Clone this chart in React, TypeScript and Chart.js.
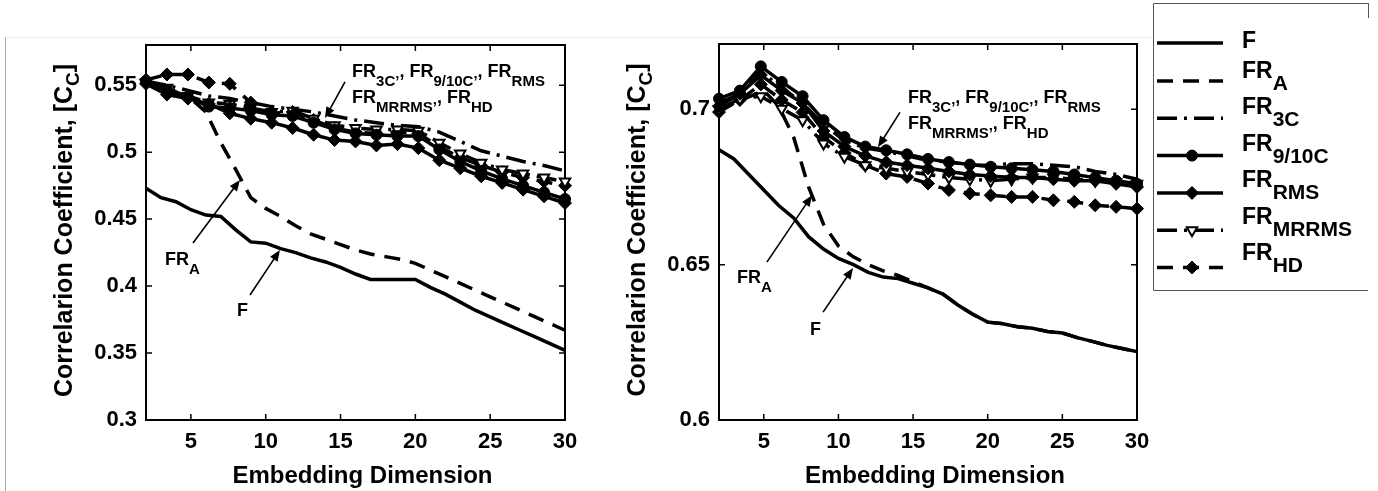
import React, { useEffect, useRef } from "react";
import { Chart, registerables } from "chart.js";

Chart.register(...registerables);

// ---------------- data ----------------
const xInt = [2, 3, 4, 5, 6, 7, 8, 9, 10, 11, 12, 13, 14, 15, 16, 17, 18, 19, 20, 21, 22, 23, 24, 25, 26, 27, 28, 29, 30];
const xMark = [2, 3.4, 4.8, 6.2, 7.6, 9, 10.4, 11.8, 13.2, 14.6, 16, 17.4, 18.8, 20.2, 21.6, 23, 24.4, 25.8, 27.2, 28.6, 30];

// left panel
const leftF = [0.473, 0.466, 0.463, 0.457, 0.453, 0.452, 0.442, 0.433, 0.432, 0.428, 0.425, 0.421, 0.418, 0.414, 0.409, 0.405, 0.405, 0.405, 0.405, 0.399, 0.394, 0.388, 0.382, 0.377, 0.372, 0.367, 0.362, 0.357, 0.352];
const leftFRA = [0.552, 0.549, 0.545, 0.540, 0.530, 0.507, 0.487, 0.466, 0.458, 0.452, 0.445, 0.439, 0.435, 0.431, 0.427, 0.424, 0.422, 0.420, 0.417, 0.412, 0.407, 0.402, 0.397, 0.392, 0.387, 0.382, 0.377, 0.372, 0.367];
const left3C = [0.553, 0.550, 0.546, 0.542, 0.540, 0.537, 0.534, 0.532, 0.530, 0.527, 0.524, 0.522, 0.520, 0.519, 0.515, 0.508, 0.501, 0.497, 0.493, 0.490, 0.486];
const left910C = [0.553, 0.546, 0.541, 0.534, 0.533, 0.531, 0.528, 0.527, 0.522, 0.517, 0.514, 0.513, 0.512, 0.512, 0.502, 0.493, 0.486, 0.480, 0.475, 0.470, 0.465];
const leftRMS = [0.551, 0.543, 0.540, 0.536, 0.529, 0.525, 0.522, 0.518, 0.513, 0.509, 0.508, 0.505, 0.506, 0.503, 0.494, 0.488, 0.482, 0.477, 0.472, 0.467, 0.462];
const leftMRRMS = [0.552, 0.548, 0.542, 0.537, 0.536, 0.533, 0.530, 0.531, 0.525, 0.520, 0.518, 0.517, 0.517, 0.516, 0.507, 0.499, 0.492, 0.487, 0.484, 0.481, 0.478];
const leftHD = [0.554, 0.558, 0.558, 0.552, 0.551, 0.537, 0.529, 0.530, 0.524, 0.518, 0.515, 0.514, 0.515, 0.514, 0.504, 0.496, 0.490, 0.485, 0.481, 0.478, 0.475];

// right panel
const rightF = [0.687, 0.684, 0.679, 0.674, 0.669, 0.665, 0.659, 0.655, 0.652, 0.650, 0.6475, 0.646, 0.6455, 0.644, 0.6425, 0.6405, 0.637, 0.634, 0.6315, 0.631, 0.630, 0.6295, 0.6285, 0.628, 0.6265, 0.6253, 0.624, 0.623, 0.622];
const rightFRA = [0.700, 0.702, 0.704, 0.706, 0.701, 0.691, 0.675, 0.663, 0.656, 0.6525, 0.650, 0.648, 0.6465, 0.6445, 0.6425, 0.6405, 0.637, 0.634, 0.6315, 0.631, 0.630, 0.6295, 0.6285, 0.628, 0.6265, 0.6253, 0.624, 0.623, 0.622];
const right3C = [0.702, 0.705, 0.712, 0.707, 0.702, 0.695, 0.690, 0.6875, 0.6865, 0.685, 0.6835, 0.683, 0.682, 0.682, 0.6825, 0.6825, 0.682, 0.6815, 0.680, 0.679, 0.6775];
const right910C = [0.7034, 0.706, 0.7138, 0.7088, 0.7042, 0.6965, 0.6911, 0.688, 0.6868, 0.6855, 0.684, 0.683, 0.6822, 0.6815, 0.681, 0.6805, 0.680, 0.679, 0.678, 0.677, 0.676];
const rightRMS = [0.701, 0.705, 0.711, 0.706, 0.702, 0.693, 0.688, 0.685, 0.683, 0.682, 0.681, 0.680, 0.679, 0.6785, 0.678, 0.678, 0.6775, 0.677, 0.677, 0.676, 0.675];
const rightMRRMS = [0.700, 0.7034, 0.7042, 0.7002, 0.6965, 0.689, 0.6847, 0.682, 0.681, 0.680, 0.679, 0.678, 0.6775, 0.677, 0.6775, 0.678, 0.678, 0.6775, 0.677, 0.6765, 0.676];
const rightHD = [0.6991, 0.703, 0.708, 0.703, 0.699, 0.691, 0.686, 0.682, 0.6793, 0.6782, 0.6761, 0.674, 0.6729, 0.6723, 0.6718, 0.6718, 0.6707, 0.6702, 0.6691, 0.6686, 0.668];

// axes
const xRange = [2, 30];
const xTicks = [5, 10, 15, 20, 25, 30];
const xTickLabels = ["5", "10", "15", "20", "25", "30"];
const leftYRange = [0.3, 0.58];
const leftYTicks = [0.3, 0.35, 0.4, 0.45, 0.5, 0.55];
const leftYTickLabels = ["0.3", "0.35", "0.4", "0.45", "0.5", "0.55"];
const rightYRange = [0.6, 0.721];
const rightYTicks = [0.6, 0.65, 0.7];
const rightYTickLabels = ["0.6", "0.65", "0.7"];

const xTitle = "Embedding Dimension";
type Seg = [string, boolean]; // [text, isSubscript]
const yTitle: Seg[] = [["Correlarion Coefficient, [C", false], ["C", true], ["]", false]];

const seriesLabels: Seg[][] = [
  [["F", false]],
  [["FR", false], ["A", true]],
  [["FR", false], ["3C", true]],
  [["FR", false], ["9/10C", true]],
  [["FR", false], ["RMS", true]],
  [["FR", false], ["MRRMS", true]],
  [["FR", false], ["HD", true]],
];

const groupLine1: Seg[] = [["FR", false], ["3C\u2019", true], [", ", false], ["FR", false], ["9/10C\u2019", true], [", ", false], ["FR", false], ["RMS", true]];
const groupLine2: Seg[] = [["FR", false], ["MRRMS\u2019", true], [", ", false], ["FR", false], ["HD", true]];
const fraLabel: Seg[] = [["FR", false], ["A", true]];
const fLabel: Seg[] = [["F", false]];

// annotation anchors in data units
const leftNotes = {
  group: [15.77, 0.5561], groupArrow: [15.3, 0.5524, 13.96, 0.5255],
  fra: [3.27, 0.4157], fraArrow: [5.14, 0.4322, 8.28, 0.4792],
  f: [8.08, 0.3777], fArrow: [8.95, 0.3933, 10.95, 0.4269],
};
const rightNotes = {
  group: [14.66, 0.7019], groupArrow: [14.12, 0.699, 12.65, 0.6878],
  fra: [3.21, 0.6441], fraArrow: [5.21, 0.6508, 8.23, 0.6723],
  f: [8.1, 0.6273], fArrow: [8.97, 0.6347, 10.98, 0.6489],
};

// ---------------- styles ----------------
const FONT = '"Liberation Sans", Arial, Helvetica, sans-serif';
const DASH = [16, 10];
const DASHDOT = [20, 7, 3, 7];
type Style = { dash: number[]; marker: string | null; r: number; rot: number; fill: string };
const STYLES: Style[] = [
  { dash: [], marker: null, r: 0, rot: 0, fill: "#000" },
  { dash: DASH, marker: null, r: 0, rot: 0, fill: "#000" },
  { dash: DASHDOT, marker: null, r: 0, rot: 0, fill: "#000" },
  { dash: [], marker: "circle", r: 5.5, rot: 0, fill: "#000" },
  { dash: [], marker: "rectRot", r: 6.5, rot: 0, fill: "#000" },
  { dash: DASHDOT, marker: "triangle", r: 6, rot: 180, fill: "#fff" },
  { dash: DASH, marker: "rectRot", r: 6.5, rot: 0, fill: "#000" },
];

function makeDatasets(series: number[][]) {
  return series.map((ys, i) => {
    const xs = i < 2 ? xInt : xMark;
    const st = STYLES[i];
    return {
      label: seriesLabels[i].map((s) => s[0]).join(""),
      data: ys.map((y, j) => ({ x: xs[j], y })),
      borderColor: "#000",
      borderWidth: 3.5,
      borderDash: st.dash,
      tension: 0,
      fill: false,
      clip: false as const,
      pointStyle: st.marker || "circle",
      pointRadius: st.marker ? st.r : 0,
      pointRotation: st.rot,
      pointBackgroundColor: st.fill,
      pointBorderColor: "#000",
      pointBorderWidth: st.fill === "#fff" ? 2 : 1,
    };
  });
}

function segFont(sub: boolean, main: number, subSize: number) {
  return `bold ${sub ? subSize : main}px ${FONT}`;
}
function richWidth(ctx: CanvasRenderingContext2D, segs: Seg[], main: number, sub: number) {
  let w = 0;
  for (const [t, s] of segs) {
    ctx.font = segFont(s, main, sub);
    w += ctx.measureText(t).width;
  }
  return w;
}
function drawRich(ctx: CanvasRenderingContext2D, x: number, y: number, segs: Seg[], main: number, sub: number, dy: number) {
  let cx = x;
  ctx.textAlign = "left";
  ctx.textBaseline = "alphabetic";
  for (const [t, s] of segs) {
    ctx.font = segFont(s, main, sub);
    ctx.fillText(t, cx, s ? y + dy : y);
    cx += ctx.measureText(t).width;
  }
}
function drawArrow(ctx: CanvasRenderingContext2D, x1: number, y1: number, x2: number, y2: number) {
  const ang = Math.atan2(y2 - y1, x2 - x1);
  const hl = 11, hw = 4.5;
  ctx.lineWidth = 1.6;
  ctx.setLineDash([]);
  ctx.beginPath();
  ctx.moveTo(x1, y1);
  ctx.lineTo(x2 - Math.cos(ang) * hl * 0.8, y2 - Math.sin(ang) * hl * 0.8);
  ctx.stroke();
  ctx.beginPath();
  ctx.moveTo(x2, y2);
  ctx.lineTo(x2 - Math.cos(ang) * hl - Math.sin(ang) * hw, y2 - Math.sin(ang) * hl + Math.cos(ang) * hw);
  ctx.lineTo(x2 - Math.cos(ang) * hl + Math.sin(ang) * hw, y2 - Math.sin(ang) * hl - Math.cos(ang) * hw);
  ctx.closePath();
  ctx.fill();
}
function drawMarker(ctx: CanvasRenderingContext2D, st: Style, x: number, y: number) {
  if (!st.marker) return;
  ctx.setLineDash([]);
  ctx.fillStyle = st.fill;
  ctx.strokeStyle = "#000";
  ctx.lineWidth = st.fill === "#fff" ? 2 : 1;
  ctx.beginPath();
  if (st.marker === "circle") {
    ctx.arc(x, y, st.r, 0, Math.PI * 2);
  } else if (st.marker === "rectRot") {
    ctx.moveTo(x, y - st.r); ctx.lineTo(x + st.r, y); ctx.lineTo(x, y + st.r); ctx.lineTo(x - st.r, y);
  } else {
    const r = st.r;
    ctx.moveTo(x, y + r); ctx.lineTo(x + r * 0.866, y - r * 0.5); ctx.lineTo(x - r * 0.866, y - r * 0.5);
  }
  ctx.closePath();
  ctx.fill();
  ctx.stroke();
}

type Panel = {
  series: number[][];
  yRange: number[];
  yTicks: number[];
  yTickLabels: string[];
  yAxisWidth: number;
  padding: { top: number; right: number; left: number; bottom: number };
  notes: typeof leftNotes;
  legendOffset: number | null;
};

function makePlugin(p: Panel) {
  return {
    id: "panelDecor",
    beforeDatasetsDraw(chart: any) {
      const ctx: CanvasRenderingContext2D = chart.ctx;
      const { left, right, top, bottom } = chart.chartArea;
      const xs = chart.scales.x, ys = chart.scales.y;
      ctx.save();
      ctx.setLineDash([]);
      ctx.strokeStyle = "#000";
      ctx.lineWidth = 2;
      ctx.strokeRect(left, top, right - left, bottom - top);
      ctx.lineWidth = 1.5;
      ctx.beginPath();
      for (const v of xTicks) {
        const px = xs.getPixelForValue(v);
        ctx.moveTo(px, bottom); ctx.lineTo(px, bottom - 6);
        ctx.moveTo(px, top); ctx.lineTo(px, top + 6);
      }
      for (const v of p.yTicks) {
        const py = ys.getPixelForValue(v);
        ctx.moveTo(left, py); ctx.lineTo(left + 6, py);
        ctx.moveTo(right, py); ctx.lineTo(right - 6, py);
      }
      ctx.stroke();
      ctx.restore();
    },
    afterDraw(chart: any) {
      const ctx: CanvasRenderingContext2D = chart.ctx;
      const { left, right, top, bottom } = chart.chartArea;
      const xs = chart.scales.x, ys = chart.scales.y;
      const X = (v: number) => xs.getPixelForValue(v);
      const Y = (v: number) => ys.getPixelForValue(v);
      ctx.save();
      ctx.fillStyle = "#000";
      ctx.strokeStyle = "#000";
      // x title
      ctx.font = `bold 24px ${FONT}`;
      ctx.textAlign = "center";
      ctx.textBaseline = "alphabetic";
      ctx.fillText(xTitle, (left + right) / 2 + 7, bottom + 63);
      // y title (rotated)
      const yw = richWidth(ctx, yTitle, 25, 19);
      ctx.save();
      ctx.translate(left - 74, (top + bottom) / 2 - 2);
      ctx.rotate(-Math.PI / 2);
      drawRich(ctx, -yw / 2, 0, yTitle, 25, 19, 7);
      ctx.restore();
      // annotations
      const n = p.notes;
      drawRich(ctx, X(n.group[0]), Y(n.group[1]), groupLine1, 18, 15, 9);
      drawRich(ctx, X(n.group[0]), Y(n.group[1]) + 26, groupLine2, 18, 15, 9);
      drawArrow(ctx, X(n.groupArrow[0]), Y(n.groupArrow[1]), X(n.groupArrow[2]), Y(n.groupArrow[3]));
      drawRich(ctx, X(n.fra[0]), Y(n.fra[1]), fraLabel, 18, 15, 9);
      drawArrow(ctx, X(n.fraArrow[0]), Y(n.fraArrow[1]), X(n.fraArrow[2]), Y(n.fraArrow[3]));
      drawRich(ctx, X(n.f[0]), Y(n.f[1]), fLabel, 18, 15, 9);
      drawArrow(ctx, X(n.fArrow[0]), Y(n.fArrow[1]), X(n.fArrow[2]), Y(n.fArrow[3]));

      // legend
      if (p.legendOffset !== null) {
        const ox = 1153 - p.legendOffset;
        ctx.setLineDash([]);
        ctx.strokeStyle = "#555";
        ctx.lineWidth = 1;
        ctx.beginPath();
        ctx.moveTo(ox + 215, 3.5); ctx.lineTo(ox + 0.5, 3.5); ctx.lineTo(ox + 0.5, 290.5); ctx.lineTo(ox + 215, 290.5);
        ctx.moveTo(ox + 215.5, 3); ctx.lineTo(ox + 215.5, 18);
        ctx.stroke();
        for (let i = 0; i < STYLES.length; i++) {
          const st = STYLES[i];
          const ly = i === 0 ? 43 : 81 + (i - 1) * 37.3;
          ctx.strokeStyle = "#000";
          ctx.lineWidth = 3.5;
          ctx.setLineDash(st.dash);
          ctx.beginPath();
          ctx.moveTo(ox + 4, ly);
          ctx.lineTo(ox + 70, ly);
          ctx.stroke();
          drawMarker(ctx, st, ox + 39, ly);
          ctx.fillStyle = "#000";
          const by = i === 0 ? 48 : 78 + (i - 1) * 36.4;
          drawRich(ctx, ox + 89, by, seriesLabels[i], 23, 21, 12);
        }
      }
      ctx.restore();
    },
  };
}

function buildConfig(p: Panel): any {
  return {
    type: "line",
    data: { datasets: makeDatasets(p.series) },
    options: {
      animation: false,
      responsive: false,
      events: [],
      layout: { padding: p.padding },
      plugins: { legend: { display: false }, tooltip: { enabled: false }, title: { display: false } },
      scales: {
        x: {
          type: "linear",
          min: xRange[0],
          max: xRange[1],
          grid: { display: false, drawTicks: false },
          border: { display: false },
          ticks: {
            color: "#000",
            padding: 9,
            maxRotation: 0,
            autoSkip: false,
            font: { family: FONT, size: 22, weight: "bold" },
            callback: (_v: number, i: number) => xTickLabels[i],
          },
          afterBuildTicks: (s: any) => { s.ticks = xTicks.map((v) => ({ value: v })); },
          afterFit: (s: any) => { s.height = 71; },
        },
        y: {
          type: "linear",
          min: p.yRange[0],
          max: p.yRange[1],
          grid: { display: false, drawTicks: false },
          border: { display: false },
          ticks: {
            color: "#000",
            padding: 9,
            autoSkip: false,
            font: { family: FONT, size: 22, weight: "bold" },
            callback: (_v: number, i: number) => p.yTickLabels[i],
          },
          afterBuildTicks: (s: any) => { s.ticks = p.yTicks.map((v) => ({ value: v })); },
          afterFit: (s: any) => { s.width = p.yAxisWidth; },
        },
      },
    },
    plugins: [makePlugin(p)],
  };
}

const leftPanel: Panel = {
  series: [leftF, leftFRA, left3C, left910C, leftRMS, leftMRRMS, leftHD],
  yRange: leftYRange,
  yTicks: leftYTicks,
  yTickLabels: leftYTickLabels,
  yAxisWidth: 146,
  padding: { top: 45, right: 55, left: 0, bottom: 0 },
  notes: leftNotes,
  legendOffset: null,
};
const rightPanel: Panel = {
  series: [rightF, rightFRA, right3C, right910C, rightRMS, rightMRRMS, rightHD],
  yRange: rightYRange,
  yTicks: rightYTicks,
  yTickLabels: rightYTickLabels,
  yAxisWidth: 99,
  padding: { top: 44, right: 241, left: 0, bottom: 0 },
  notes: rightNotes,
  legendOffset: 620,
};

function ChartCanvas({ panel, width, height, left }: { panel: Panel; width: number; height: number; left: number }) {
  const ref = useRef<HTMLCanvasElement | null>(null);
  useEffect(() => {
    if (!ref.current) return;
    const chart = new Chart(ref.current, buildConfig(panel));
    return () => chart.destroy();
  }, [panel]);
  return (
    <canvas
      ref={ref}
      width={width}
      height={height}
      style={{ position: "absolute", left, top: 0, width, height }}
    />
  );
}

export default function App() {
  return (
    <div style={{ position: "fixed", left: 0, top: 0, width: 1378, height: 491, background: "#fff", overflow: "hidden" }}>
      <div
        style={{
          position: "absolute",
          left: 5,
          top: 37,
          width: 1145,
          height: 460,
          borderTop: "1px solid #ececec",
          borderLeft: "1px solid #a8a8a8",
        }}
      />
      <ChartCanvas panel={leftPanel} width={620} height={491} left={0} />
      <ChartCanvas panel={rightPanel} width={758} height={491} left={620} />
    </div>
  );
}
